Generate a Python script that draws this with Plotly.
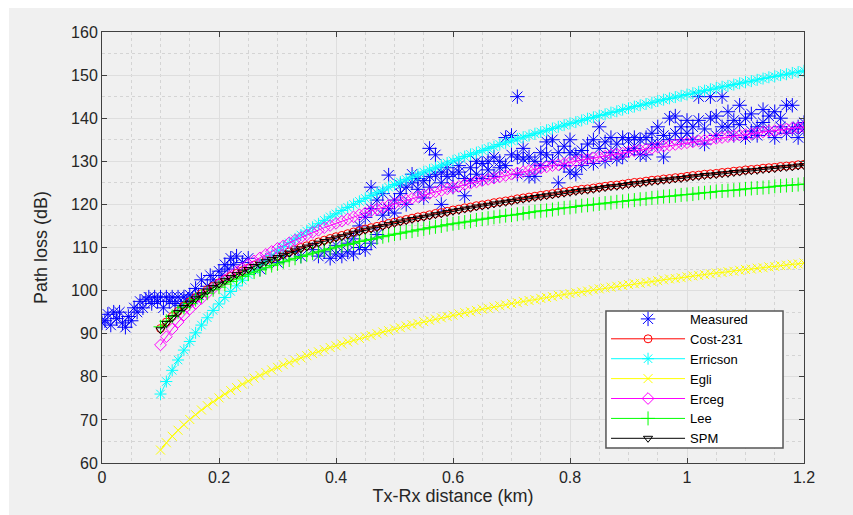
import plotly.graph_objects as go

# ---- data ----
dist_km = [round(0.10 + 0.01 * i, 2) for i in range(111)]

cost231 = [91.2, 92.7, 94.0, 95.2, 96.4, 97.4, 98.4, 99.3, 100.2, 101.0,
           101.8, 102.6, 103.3, 104.0, 104.6, 105.2, 105.9, 106.4, 107.0, 107.5,
           108.0, 108.5, 109.0, 109.5, 110.0, 110.4, 110.8, 111.3, 111.7, 112.1,
           112.5, 112.8, 113.2, 113.6, 113.9, 114.3, 114.6, 114.9, 115.2, 115.6,
           115.9, 116.2, 116.5, 116.8, 117.1, 117.3, 117.6, 117.9, 118.1, 118.4,
           118.7, 118.9, 119.2, 119.4, 119.7, 119.9, 120.1, 120.4, 120.6, 120.8,
           121.0, 121.3, 121.5, 121.7, 121.9, 122.1, 122.3, 122.5, 122.7, 122.9,
           123.1, 123.3, 123.5, 123.6, 123.8, 124.0, 124.2, 124.4, 124.5, 124.7,
           124.9, 125.1, 125.2, 125.4, 125.6, 125.7, 125.9, 126.0, 126.2, 126.3,
           126.5, 126.7, 126.8, 127.0, 127.1, 127.2, 127.4, 127.5, 127.7, 127.8,
           128.0, 128.1, 128.2, 128.4, 128.5, 128.6, 128.8, 128.9, 129.0, 129.2,
           129.3]

erricson = [76.0, 78.9, 81.5, 83.9, 86.2, 88.2, 90.2, 92.0, 93.7, 95.4,
            96.9, 98.4, 99.8, 101.1, 102.4, 103.7, 104.8, 106.0, 107.1, 108.1,
            109.2, 110.2, 111.1, 112.0, 112.9, 113.8, 114.7, 115.5, 116.3, 117.1,
            117.8, 118.6, 119.3, 120.0, 120.7, 121.4, 122.1, 122.7, 123.3, 124.0,
            124.6, 125.2, 125.8, 126.3, 126.9, 127.5, 128.0, 128.5, 129.1, 129.6,
            130.1, 130.6, 131.1, 131.6, 132.0, 132.5, 133.0, 133.4, 133.9, 134.3,
            134.7, 135.2, 135.6, 136.0, 136.4, 136.8, 137.2, 137.6, 138.0, 138.4,
            138.8, 139.1, 139.5, 139.9, 140.2, 140.6, 140.9, 141.3, 141.6, 142.0,
            142.3, 142.7, 143.0, 143.3, 143.6, 144.0, 144.3, 144.6, 144.9, 145.2,
            145.5, 145.8, 146.1, 146.4, 146.7, 147.0, 147.3, 147.5, 147.8, 148.1,
            148.4, 148.6, 148.9, 149.2, 149.5, 149.7, 150.0, 150.2, 150.5, 150.7,
            151.0]

egli = [63.0, 64.7, 66.2, 67.6, 68.9, 70.1, 71.2, 72.3, 73.3, 74.2,
        75.1, 76.0, 76.8, 77.5, 78.3, 79.0, 79.7, 80.3, 81.0, 81.6,
        82.2, 82.8, 83.3, 83.8, 84.4, 84.9, 85.4, 85.8, 86.3, 86.8,
        87.2, 87.6, 88.1, 88.5, 88.9, 89.3, 89.6, 90.0, 90.4, 90.7,
        91.1, 91.4, 91.8, 92.1, 92.4, 92.8, 93.1, 93.4, 93.7, 94.0,
        94.3, 94.6, 94.9, 95.1, 95.4, 95.7, 95.9, 96.2, 96.5, 96.7,
        97.0, 97.2, 97.5, 97.7, 97.9, 98.2, 98.4, 98.6, 98.9, 99.1,
        99.3, 99.5, 99.7, 99.9, 100.2, 100.4, 100.6, 100.8, 101.0, 101.2,
        101.4, 101.6, 101.7, 101.9, 102.1, 102.3, 102.5, 102.7, 102.8, 103.0,
        103.2, 103.4, 103.5, 103.7, 103.9, 104.1, 104.2, 104.4, 104.5, 104.7,
        104.9, 105.0, 105.2, 105.3, 105.5, 105.6, 105.8, 105.9, 106.1, 106.2,
        106.4]

erceg = [87.4, 89.3, 91.1, 92.7, 94.3, 95.7, 97.0, 98.2, 99.4, 100.5,
         101.5, 102.5, 103.5, 104.4, 105.2, 106.1, 106.9, 107.6, 108.4, 109.1,
         109.8, 110.4, 111.1, 111.7, 112.3, 112.9, 113.5, 114.0, 114.6, 115.1,
         115.6, 116.1, 116.6, 117.1, 117.6, 118.0, 118.5, 118.9, 119.3, 119.8,
         120.2, 120.6, 121.0, 121.4, 121.8, 122.1, 122.5, 122.9, 123.2, 123.6,
         123.9, 124.2, 124.6, 124.9, 125.2, 125.5, 125.8, 126.1, 126.4, 126.7,
         127.0, 127.3, 127.6, 127.9, 128.2, 128.4, 128.7, 129.0, 129.2, 129.5,
         129.8, 130.0, 130.3, 130.5, 130.8, 131.0, 131.2, 131.5, 131.7, 131.9,
         132.2, 132.4, 132.6, 132.8, 133.0, 133.3, 133.5, 133.7, 133.9, 134.1,
         134.3, 134.5, 134.7, 134.9, 135.1, 135.3, 135.5, 135.7, 135.9, 136.1,
         136.2, 136.4, 136.6, 136.8, 137.0, 137.1, 137.3, 137.5, 137.7, 137.8,
         138.0]

lee = [91.6, 92.9, 94.0, 95.1, 96.1, 97.0, 97.9, 98.7, 99.4, 100.2,
       100.8, 101.5, 102.1, 102.7, 103.3, 103.8, 104.3, 104.8, 105.3, 105.8,
       106.2, 106.7, 107.1, 107.5, 107.9, 108.3, 108.7, 109.0, 109.4, 109.7,
       110.1, 110.4, 110.7, 111.0, 111.4, 111.7, 111.9, 112.2, 112.5, 112.8,
       113.1, 113.3, 113.6, 113.8, 114.1, 114.3, 114.6, 114.8, 115.0, 115.3,
       115.5, 115.7, 115.9, 116.1, 116.4, 116.6, 116.8, 117.0, 117.2, 117.4,
       117.5, 117.7, 117.9, 118.1, 118.3, 118.5, 118.6, 118.8, 119.0, 119.2,
       119.3, 119.5, 119.7, 119.8, 120.0, 120.1, 120.3, 120.4, 120.6, 120.7,
       120.9, 121.0, 121.2, 121.3, 121.5, 121.6, 121.8, 121.9, 122.0, 122.2,
       122.3, 122.4, 122.6, 122.7, 122.8, 123.0, 123.1, 123.2, 123.3, 123.4,
       123.6, 123.7, 123.8, 123.9, 124.0, 124.2, 124.3, 124.4, 124.5, 124.6,
       124.7]

spm = [90.9, 92.4, 93.7, 94.9, 96.1, 97.1, 98.1, 99.0, 99.9, 100.7,
       101.5, 102.3, 103.0, 103.7, 104.3, 104.9, 105.6, 106.1, 106.7, 107.2,
       107.7, 108.2, 108.7, 109.2, 109.7, 110.1, 110.5, 111.0, 111.4, 111.8,
       112.2, 112.5, 112.9, 113.3, 113.6, 114.0, 114.3, 114.6, 114.9, 115.3,
       115.6, 115.9, 116.2, 116.5, 116.8, 117.0, 117.3, 117.6, 117.8, 118.1,
       118.4, 118.6, 118.9, 119.1, 119.4, 119.6, 119.8, 120.1, 120.3, 120.5,
       120.7, 121.0, 121.2, 121.4, 121.6, 121.8, 122.0, 122.2, 122.4, 122.6,
       122.8, 123.0, 123.2, 123.3, 123.5, 123.7, 123.9, 124.1, 124.2, 124.4,
       124.6, 124.8, 124.9, 125.1, 125.3, 125.4, 125.6, 125.7, 125.9, 126.0,
       126.2, 126.4, 126.5, 126.7, 126.8, 126.9, 127.1, 127.2, 127.4, 127.5,
       127.7, 127.8, 127.9, 128.1, 128.2, 128.3, 128.5, 128.6, 128.7, 128.9,
       129.0]

meas_d = [0.000, 0.005, 0.010, 0.015, 0.020, 0.025, 0.030, 0.035, 0.040, 0.045,
          0.050, 0.055, 0.060, 0.065, 0.070, 0.075, 0.080, 0.085, 0.090, 0.095,
          0.100, 0.105, 0.110, 0.115, 0.120, 0.125, 0.130, 0.135, 0.140, 0.145,
          0.150, 0.155, 0.160, 0.165, 0.170, 0.180, 0.185, 0.190, 0.200, 0.205,
          0.210, 0.215, 0.220, 0.225, 0.230, 0.240, 0.250, 0.270, 0.280, 0.300,
          0.310, 0.330, 0.340, 0.360, 0.370, 0.380, 0.390, 0.400, 0.400, 0.410,
          0.420, 0.420, 0.430, 0.430, 0.440, 0.440, 0.450, 0.450, 0.460, 0.460,
          0.460, 0.470, 0.470, 0.480, 0.480, 0.490, 0.490, 0.500, 0.500, 0.510,
          0.510, 0.520, 0.520, 0.530, 0.530, 0.540, 0.540, 0.550, 0.550, 0.560,
          0.560, 0.560, 0.570, 0.570, 0.580, 0.580, 0.580, 0.590, 0.590, 0.600,
          0.600, 0.610, 0.610, 0.620, 0.620, 0.630, 0.630, 0.640, 0.640, 0.650,
          0.650, 0.660, 0.660, 0.670, 0.670, 0.680, 0.680, 0.690, 0.690, 0.700,
          0.700, 0.710, 0.710, 0.710, 0.720, 0.720, 0.730, 0.730, 0.740, 0.740,
          0.750, 0.750, 0.760, 0.760, 0.770, 0.770, 0.780, 0.780, 0.790, 0.790,
          0.800, 0.800, 0.800, 0.810, 0.810, 0.820, 0.820, 0.830, 0.830, 0.840,
          0.840, 0.850, 0.850, 0.860, 0.860, 0.870, 0.870, 0.880, 0.880, 0.890,
          0.890, 0.900, 0.900, 0.910, 0.910, 0.920, 0.920, 0.930, 0.930, 0.940,
          0.940, 0.950, 0.950, 0.960, 0.960, 0.970, 0.970, 0.980, 0.980, 0.990,
          0.990, 1.000, 1.000, 1.010, 1.010, 1.020, 1.020, 1.030, 1.030, 1.040,
          1.040, 1.050, 1.050, 1.060, 1.060, 1.070, 1.070, 1.080, 1.080, 1.090,
          1.090, 1.100, 1.100, 1.110, 1.110, 1.120, 1.120, 1.130, 1.130, 1.140,
          1.140, 1.150, 1.150, 1.160, 1.160, 1.170, 1.170, 1.180, 1.180, 1.190,
          1.190, 1.200, 1.200]

meas_pl = [92.5, 93.0, 94.5, 92.0, 95.0, 93.5, 95.0, 92.5, 91.5, 94.0,
           93.0, 96.0, 95.0, 97.5, 96.0, 98.0, 98.5, 97.0, 98.5, 97.5,
           98.5, 96.0, 98.5, 97.5, 98.5, 97.0, 98.5, 96.5, 98.5, 97.5,
           99.0, 98.0, 100.5, 99.0, 102.5, 101.0, 103.5, 102.5, 104.5, 103.5,
           106.0, 105.0, 107.5, 106.0, 108.0, 106.5, 107.5, 105.0, 107.0, 106.5,
           108.0, 109.0, 108.0, 109.5, 108.0, 109.0, 107.5, 108.5, 110.5, 108.0,
           109.0, 111.0, 108.5, 112.0, 110.0, 115.0, 109.5, 117.0, 111.0, 119.0,
           124.0, 113.0, 121.0, 117.5, 122.5, 119.0, 126.8, 121.0, 118.0, 122.5,
           124.5, 120.0, 124.0, 125.0, 127.0, 123.5, 126.0, 125.5, 121.5, 133.0,
           126.5, 124.0, 131.5, 127.0, 120.0, 127.5, 125.0, 126.5, 128.5, 124.0,
           127.0, 127.5, 129.0, 122.0, 126.0, 128.5, 125.5, 127.0, 130.0, 129.5,
           126.0, 130.0, 128.0, 131.0, 126.5, 130.0, 128.5, 135.5, 129.0, 131.5,
           136.0, 145.0, 131.0, 127.0, 130.5, 133.0, 131.0, 126.5, 126.5, 130.0,
           132.0, 129.0, 131.5, 134.5, 135.0, 130.0, 125.0, 132.0, 129.0, 133.5,
           127.5, 132.0, 135.0, 131.5, 127.0, 132.5, 129.0, 134.0, 131.0, 135.0,
           129.5, 138.0, 133.0, 134.5, 130.0, 135.5, 132.0, 130.5, 134.0, 135.5,
           131.0, 135.0, 132.5, 135.5, 133.0, 131.5, 135.0, 135.5, 131.5, 134.0,
           136.5, 138.0, 134.0, 131.0, 136.0, 140.0, 135.0, 140.5, 136.5, 138.0,
           135.0, 136.5, 139.5, 138.0, 135.0, 145.0, 139.5, 134.0, 137.5, 145.0,
           140.0, 140.5, 136.0, 145.0, 138.0, 138.0, 141.5, 136.0, 139.5, 143.0,
           138.5, 135.5, 140.0, 141.0, 137.0, 138.0, 136.0, 142.0, 139.0, 137.0,
           140.5, 141.5, 135.5, 138.0, 140.0, 143.0, 136.5, 143.0, 137.5, 135.5,
           138.0, 139.0, 137.5]

x_ticks = [0, 0.2, 0.4, 0.6, 0.8, 1, 1.2]
y_ticks = [60, 70, 80, 90, 100, 110, 120, 130, 140, 150, 160]

FONT = "Liberation Sans, Arial, sans-serif"

# ---- figure ----
fig = go.Figure()

fig.add_trace(go.Scatter(
    x=meas_d, y=meas_pl, mode="markers", name="Measured",
    marker=dict(symbol="asterisk-open", size=12, color="#0000ff",
                line=dict(color="#0000ff", width=1))))

model_specs = [
    ("Cost-231", cost231, "#ff0000", "circle-open", 8),
    ("Erricson", erricson, "#00ffff", "asterisk-open", 10),
    ("Egli", egli, "#ffff00", "x-thin-open", 9),
    ("Erceg", erceg, "#ff00ff", "diamond-open", 9),
    ("Lee", lee, "#00ff00", "cross-thin-open", 10),
    ("SPM", spm, "#000000", "triangle-down-open", 8),
]
for name, vals, col, sym, sz in model_specs:
    fig.add_trace(go.Scatter(
        x=dist_km, y=vals, mode="lines+markers", name=name,
        line=dict(color=col, width=1),
        marker=dict(symbol=sym, size=sz, color=col,
                    line=dict(color=col, width=1))))

axis_common = dict(
    showline=True, linecolor="#404040", linewidth=1, mirror="ticks",
    ticks="inside", ticklen=5, tickcolor="#404040",
    showgrid=True, gridcolor="#dedede", gridwidth=1,
    zeroline=False,
    tickfont=dict(family=FONT, size=16, color="#262626"),
)

fig.update_xaxes(
    range=[0, 1.2], tickvals=x_ticks,
    minor=dict(dtick=0.05, showgrid=True, gridcolor="#d4d4d4", griddash="dot", ticks=""),
    title=dict(text="Tx-Rx distance (km)", standoff=4,
               font=dict(family=FONT, size=18, color="#262626")),
    **axis_common)
fig.update_yaxes(
    range=[60, 160], tickvals=y_ticks,
    minor=dict(dtick=5, showgrid=True, gridcolor="#d4d4d4", griddash="dot", ticks=""),
    title=dict(text="Path loss (dB)", standoff=18,
               font=dict(family=FONT, size=18, color="#262626")),
    **axis_common)

fig.update_layout(
    width=853, height=515,
    margin=dict(l=102, r=49, t=32, b=52),
    paper_bgcolor="#ffffff", plot_bgcolor="#ffffff",
    showlegend=True,
    legend=dict(x=0.718, y=0.369, xanchor="left", yanchor="top",
                bgcolor="rgba(0,0,0,0)", borderwidth=0,
                font=dict(family=FONT, size=13, color="#000000"),
                tracegroupgap=0, itemwidth=74),
    shapes=[
        # grey figure background
        dict(type="rect", xref="paper", yref="paper",
             x0=-0.1325, x1=1.08, y0=-0.13, y1=1.0557,
             fillcolor="#f0f0f0", line=dict(width=0), layer="below"),
        # legend box
        dict(type="rect", xref="paper", yref="paper",
             x0=0.7179, x1=0.9701, y0=0.0348, y1=0.3527,
             fillcolor="#ffffff", line=dict(color="#555555", width=1.5),
             layer="above"),
    ],
)

fig.write_html("out.html")
